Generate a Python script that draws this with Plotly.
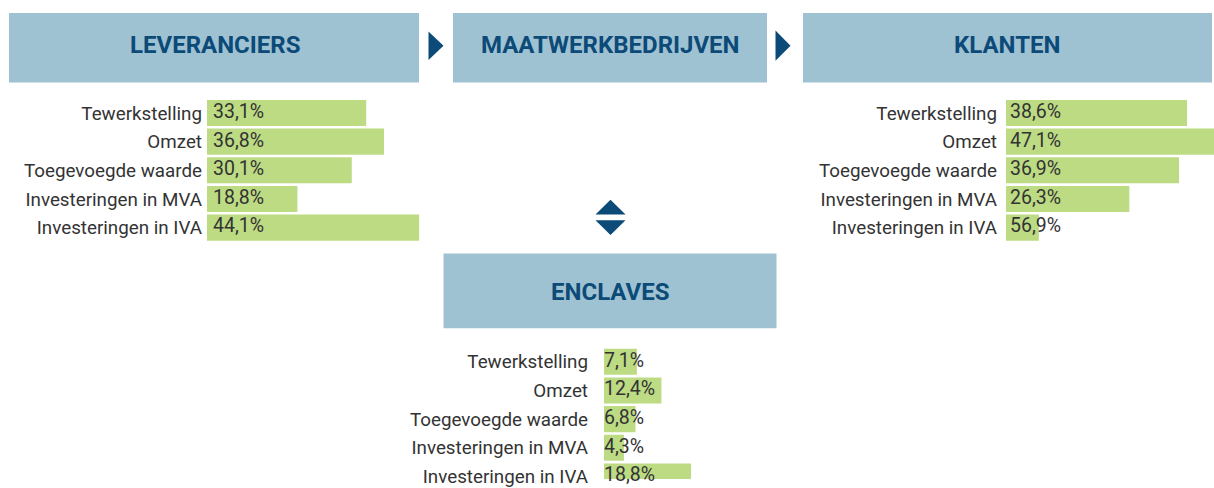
import plotly.graph_objects as go

W, H = 1214, 488

categories = ["Tewerkstelling", "Omzet", "Toegevoegde waarde",
              "Investeringen in MVA", "Investeringen in IVA"]

leveranciers_values = [33.1, 36.8, 30.1, 18.8, 44.1]
leveranciers_labels = ["33,1%", "36,8%", "30,1%", "18,8%", "44,1%"]

klanten_values = [38.6, 47.1, 36.9, 26.3, 7.0]   # last bar drawn short in the original
klanten_labels = ["38,6%", "47,1%", "36,9%", "26,3%", "56,9%"]

enclaves_values = [7.1, 12.4, 6.8, 4.3, 18.8]
enclaves_labels = ["7,1%", "12,4%", "6,8%", "4,3%", "18,8%"]

headers = ["LEVERANCIERS", "MAATWERKBEDRIJVEN", "KLANTEN", "ENCLAVES"]

BAR = "#bcdb83"
BOX = "#9fc2d3"
NAVY = "#0c4a78"
TXT = "#333333"
FONT = "Roboto"
LABEL_SIZE = 18.8
VALUE_SIZE = 19.5
HEAD_SIZE = 24


def px(x):
    return x / W


def py(y):
    return 1 - y / H


fig = go.Figure()

# chart specs: (values, labels, axis id, x0 px, x1 px, px per unit, y top px, y bottom px, standoff, text pad)
charts = [
    (leveranciers_values, leveranciers_labels, "", 207, 447, 4.81, 100.5, 246.5, 4, 6),
    (klanten_values, klanten_labels, "2", 1006, 1214, 4.69, 100.5, 246.5, 8, 4),
    (enclaves_values, enclaves_labels, "3", 604, 800, 4.63, 354, 488, 15, 0),
]

pitch = 29.2
for vals, labs, ax, x0, x1, scale, yt, yb, standoff, pad in charts:
    xr = "x" + ax
    yr = "y" + ax
    fig.add_trace(go.Bar(
        x=vals, y=categories, orientation="h", xaxis=xr, yaxis=yr,
        marker=dict(color=BAR, line=dict(width=0)), hoverinfo="skip",
        showlegend=False,
    ))
    fig.add_trace(go.Scatter(
        x=[pad / scale] * len(vals), y=categories, mode="text", text=labs,
        textposition="middle right", xaxis=xr, yaxis=yr, cliponaxis=False,
        textfont=dict(family=FONT, size=VALUE_SIZE, color=TXT), hoverinfo="skip",
        showlegend=False,
    ))
    n_rows = (yb - yt) / pitch
    xa = dict(domain=[px(x0), px(x1)], range=[0, (x1 - x0) / scale],
              visible=False, fixedrange=True)
    ya = dict(domain=[py(yb), py(yt)], range=[n_rows - 0.5, -0.5],
              type="category", categoryorder="array", categoryarray=categories,
              showgrid=False, zeroline=False, showline=False, ticks="",
              ticklabelstandoff=standoff,
              tickfont=dict(family=FONT, size=LABEL_SIZE, color=TXT),
              anchor=xr, fixedrange=True)
    fig.update_layout(**{"xaxis" + ax: dict(xa, anchor=yr), "yaxis" + ax: ya})

shapes = []
boxes = [(9, 13.3, 419, 84), (453, 13.3, 767, 84), (803, 13.3, 1212, 84),
         (443.5, 258.3, 776.5, 334.3)]
for (bx0, by0, bx1, by1) in boxes:
    shapes.append(dict(type="rect", xref="paper", yref="paper",
                       x0=px(bx0), x1=px(bx1), y0=py(by1), y1=py(by0),
                       fillcolor=BOX, line=dict(width=0), layer="below"))


def tri(points):
    d = "M " + " L ".join(f"{px(a)},{py(b)}" for a, b in points) + " Z"
    return dict(type="path", xref="paper", yref="paper", path=d,
                fillcolor=NAVY, line=dict(width=0))


shapes.append(tri([(428.5, 32), (443.5, 46.5), (428.5, 61)]))
shapes.append(tri([(775.5, 31), (790.5, 46.5), (775.5, 62)]))
shapes.append(tri([(595.5, 218.5), (610.5, 203.5), (625.5, 218.5)]))
shapes.append(tri([(595.5, 224.5), (610.5, 239.5), (625.5, 224.5)]))

annotations = []
header_pos = [(214.5, 46), (610, 46), (1007.5, 46), (610, 297)]
for text, (hx, hy) in zip(headers, header_pos):
    annotations.append(dict(text=f"<b>{text}</b>", x=px(hx), y=py(hy),
                            xref="paper", yref="paper", showarrow=False,
                            xanchor="center", yanchor="middle",
                            font=dict(family=FONT, size=HEAD_SIZE, color=NAVY)))

fig.update_layout(
    width=W, height=H, margin=dict(l=0, r=0, t=0, b=0),
    paper_bgcolor="white", plot_bgcolor="rgba(0,0,0,0)",
    bargap=0.09, shapes=shapes, annotations=annotations,
    showlegend=False,
)

post = (
    "var s=document.createElement('style');"
    "s.textContent='html,body{margin:0;padding:0;height:488px;overflow:hidden;}"
    "body>div{height:488px;overflow:hidden;line-height:0;}';"
    "document.head.appendChild(s);"
)
fig.write_html("out.html", config={"displayModeBar": False}, post_script=post)
